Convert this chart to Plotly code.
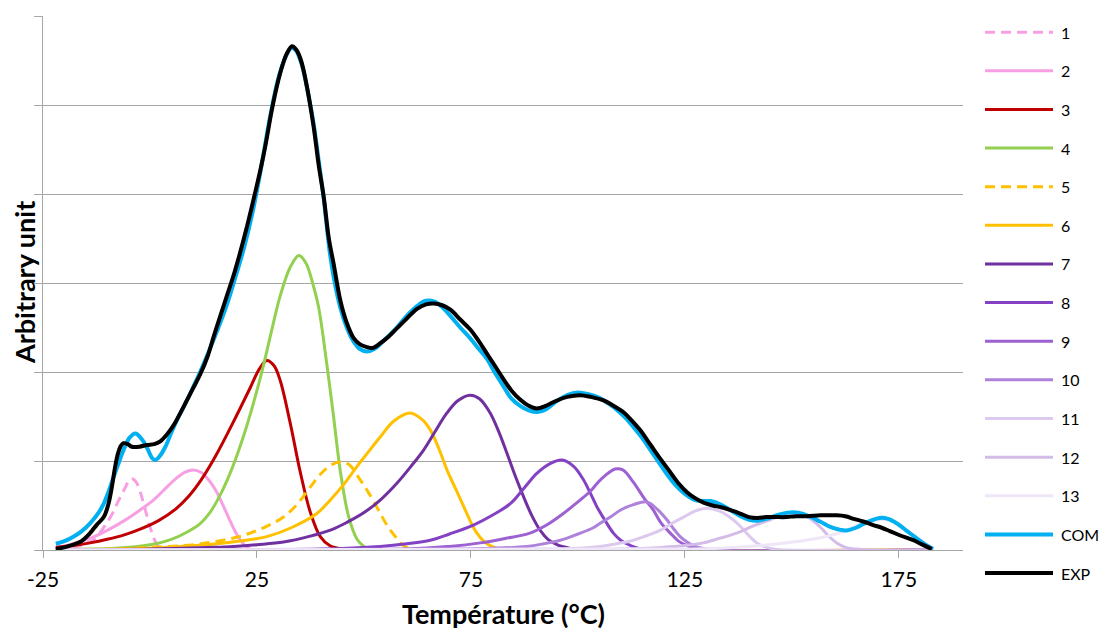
import plotly.graph_objects as go

# ---- Data: deconvolved thermogram components, composite (COM) and measured (EXP) ----
x1 = [-22, -18, -15, -13, -11, -9, -7.5, -6, -5, -4.2, -3.2, -2.2, -1.2, 0, 1.2, 2.2, 3.5, 183]
y1 = [0.0, 0.03, 0.07, 0.12, 0.24, 0.39, 0.54, 0.68, 0.77, 0.80, 0.76, 0.64, 0.47, 0.26, 0.10, 0.03, 0.0, 0.0]

x2 = [-22, -18, -14, -10, -6, -2.3, 1, 4, 6, 8, 10, 12, 14, 15.5, 17, 18.5, 20, 21.3, 22.5, 24, 183]
y2 = [0.02, 0.07, 0.13, 0.22, 0.33, 0.45, 0.57, 0.71, 0.80, 0.87, 0.90, 0.87, 0.77, 0.66, 0.51, 0.35, 0.20, 0.10, 0.04, 0.0, 0.0]

x3 = [-22, -18, -14, -10, -6, -2, 2, 6, 9, 12, 15.5, 19.5, 23.4, 25.5, 27.3, 29, 30.4, 32.8, 35.1, 37.5, 39.8, 42, 45, 48, 183]
y3 = [0.03, 0.05, 0.08, 0.12, 0.17, 0.24, 0.33, 0.46, 0.60, 0.79, 1.07, 1.44, 1.82, 2.03, 2.13, 2.07, 1.91, 1.42, 0.88, 0.42, 0.15, 0.05, 0.01, 0.0, 0.0]

x4 = [-22, -15, -8, 0, 5, 8.6, 11.8, 14, 16, 18, 20, 22, 24, 26.4, 28.5, 30.4, 32.8, 34.8, 36.5, 38, 39.4, 41.4, 42.9, 44.5, 46.4, 48.4, 50, 52, 183]
y4 = [0.0, 0.01, 0.02, 0.06, 0.12, 0.20, 0.30, 0.42, 0.58, 0.78, 1.02, 1.30, 1.62, 2.05, 2.48, 2.85, 3.18, 3.31, 3.22, 3.00, 2.73, 2.06, 1.50, 0.88, 0.38, 0.12, 0.04, 0.0, 0.0]

x5 = [-22, -10, 0, 7.9, 12, 16, 20, 23.4, 27, 31.2, 34.5, 37.5, 40, 42.5, 44.5, 46.5, 49.1, 51, 53.5, 55.5, 57.7, 59.2, 61, 63, 183]
y5 = [0.0, 0.01, 0.03, 0.05, 0.07, 0.10, 0.14, 0.19, 0.26, 0.37, 0.52, 0.71, 0.86, 0.96, 0.99, 0.96, 0.79, 0.65, 0.44, 0.27, 0.13, 0.05, 0.01, 0.0, 0.0]

x6 = [-22, 0, 10, 15.7, 21, 27.3, 33, 39, 42.1, 45, 48.4, 51, 53.8, 57, 60.8, 63.5, 65.5, 67.5, 69.4, 71.5, 73.3, 75, 76.4, 78, 79.5, 82, 85, 183]
y6 = [0.0, 0.02, 0.05, 0.07, 0.10, 0.15, 0.25, 0.41, 0.56, 0.72, 0.94, 1.10, 1.27, 1.45, 1.54, 1.47, 1.35, 1.14, 0.90, 0.68, 0.49, 0.31, 0.19, 0.10, 0.05, 0.01, 0.0, 0.0]

x7 = [-22, 0, 15, 19.5, 25, 31.2, 37, 42.5, 46, 50.3, 54, 57.7, 61, 63.9, 66.5, 69.4, 72, 74.8, 77, 79.5, 81.5, 83.4, 85.3, 87.3, 89.3, 91.2, 93, 95.1, 98, 101, 183]
y7 = [0.0, 0.01, 0.03, 0.04, 0.06, 0.09, 0.15, 0.23, 0.31, 0.43, 0.57, 0.75, 0.94, 1.12, 1.32, 1.54, 1.68, 1.74, 1.70, 1.54, 1.33, 1.09, 0.84, 0.60, 0.38, 0.22, 0.12, 0.06, 0.02, 0.0, 0.0]

x8 = [-22, 40, 53.8, 60, 65.5, 70, 75.6, 80, 84.2, 87.5, 90.4, 93.5, 96.3, 99, 101.3, 103, 104.4, 106.5, 108.3, 110, 111.4, 114, 117, 183]
y8 = [0.0, 0.01, 0.04, 0.07, 0.11, 0.18, 0.28, 0.39, 0.52, 0.70, 0.86, 0.97, 1.01, 0.94, 0.79, 0.63, 0.49, 0.32, 0.19, 0.11, 0.07, 0.02, 0.0, 0.0]

x9 = [-22, 60, 70, 77.2, 83, 88.8, 93, 96.6, 100, 102.9, 105.5, 108.7, 110.5, 113, 115.5, 117.6, 119.5, 121.6, 123.5, 125.5, 128, 183]
y9 = [0.0, 0.01, 0.04, 0.08, 0.13, 0.19, 0.29, 0.41, 0.54, 0.66, 0.80, 0.91, 0.90, 0.76, 0.58, 0.45, 0.30, 0.19, 0.10, 0.05, 0.01, 0.0]

x10 = [-22, 70, 80, 88.1, 92, 95.9, 100, 103.6, 105.2, 107.6, 110, 113, 116.1, 118.5, 120.8, 122.5, 123.9, 125.5, 127, 129, 132, 183]
y10 = [0.0, 0.01, 0.02, 0.04, 0.07, 0.11, 0.18, 0.25, 0.30, 0.37, 0.45, 0.51, 0.54, 0.46, 0.34, 0.23, 0.15, 0.09, 0.05, 0.02, 0.0, 0.0]

x11 = [-22, 90, 100, 105.2, 109, 113, 116, 119.2, 122, 124.7, 127.5, 130.1, 133, 136.3, 138.3, 140.2, 141.8, 143.4, 146, 149, 183]
y11 = [0.0, 0.01, 0.02, 0.04, 0.07, 0.11, 0.16, 0.22, 0.30, 0.37, 0.44, 0.47, 0.44, 0.34, 0.25, 0.15, 0.08, 0.04, 0.01, 0.0, 0.0]

x12 = [-22, 110, 120, 125, 129.3, 133, 137.1, 141, 144.9, 148, 151.1, 154, 156.6, 158.5, 160.5, 162.5, 165, 168, 183]
y12 = [0.0, 0.01, 0.03, 0.05, 0.08, 0.13, 0.19, 0.27, 0.34, 0.39, 0.41, 0.36, 0.26, 0.16, 0.08, 0.03, 0.01, 0.0, 0.0]

x13 = [-22, 125, 133, 140, 147, 152, 157, 161, 164, 167, 170, 172, 174.5, 177, 179.5, 181.5, 183]
y13 = [0.0, 0.01, 0.02, 0.04, 0.07, 0.10, 0.14, 0.19, 0.25, 0.31, 0.34, 0.34, 0.30, 0.22, 0.13, 0.06, 0.03]

x_com = [-22, -20, -17.9, -16, -14, -12, -10.8, -9.5, -8.5, -7.3, -6.2, -4.8, -3.4, -2, -0.7, 0.4, 1.2, 2.2, 3.6, 5,
         6.3, 8, 10, 12, 14, 16, 18, 20, 22, 24, 26, 28, 30, 31.5, 33, 34, 35.5, 37, 38.2, 39.5,
         40.6, 42, 43, 44.5, 46, 47.6, 49, 50.7, 52.5, 55, 57.7, 60, 62.4, 64.5, 66.5, 68.5, 70.2, 72.5, 74.8, 77,
         78.7, 80.5, 82.6, 84.5, 86.5, 88.5, 90.5, 92.5, 95, 97.5, 100, 102.5, 105, 107, 109, 111, 113, 115, 117, 119,
         121, 123, 125, 127, 129, 131, 133, 135.6, 138, 140, 142, 144, 146.5, 149, 151.5, 154, 156.6, 159, 161, 162.8,
         165, 167.5, 170.5, 172.5, 174.5, 177, 179.5, 181.5, 183]
y_com = [0.07, 0.10, 0.15, 0.21, 0.30, 0.42, 0.52, 0.68, 0.82, 0.98, 1.12, 1.26, 1.31, 1.25, 1.15, 1.04, 1.01, 1.05, 1.16, 1.32,
         1.46, 1.62, 1.82, 2.03, 2.26, 2.50, 2.76, 3.07, 3.40, 3.80, 4.30, 4.85, 5.30, 5.52, 5.64, 5.62, 5.45, 5.12, 4.80, 4.35,
         3.95, 3.35, 3.05, 2.72, 2.50, 2.34, 2.26, 2.23, 2.26, 2.37, 2.50, 2.63, 2.74, 2.80, 2.79, 2.72, 2.63, 2.50, 2.38, 2.25,
         2.15, 2.00, 1.84, 1.70, 1.62, 1.57, 1.55, 1.58, 1.67, 1.74, 1.77, 1.75, 1.71, 1.65, 1.58, 1.49, 1.38, 1.26, 1.12, 0.98,
         0.84, 0.72, 0.63, 0.57, 0.55, 0.55, 0.52, 0.45, 0.38, 0.34, 0.33, 0.35, 0.39, 0.42, 0.42, 0.38, 0.32, 0.26, 0.23, 0.22,
         0.25, 0.31, 0.36, 0.35, 0.30, 0.21, 0.12, 0.05, 0.01]

x_exp = [-22, -20, -17.9, -16, -14, -12.5, -10.8, -9.8, -8.9, -8.2, -7.5, -6.8, -6.2, -5.2, -4.2, -2.5, -0.7, 1, 2.4, 4,
         5.5, 7, 8.5, 10, 11.8, 13.5, 14.9, 16.5, 18, 19.5, 21, 22.7, 24.5, 25.8, 27, 28.5, 29.7, 31, 32, 33.2,
         34.2, 35.3, 36.5, 38.2, 39.5, 40.6, 41.8, 42.9, 44.5, 46, 47.6, 49.1, 50.7, 52, 54, 55.8, 57.7, 60, 62.4, 64.5,
         66.3, 68.3, 70.2, 72.5, 74.8, 76.8, 78.7, 80.6, 82.6, 84.5, 86.5, 88.5, 90.4, 92.5, 95.1, 97.5, 100.5, 103, 106, 108,
         110.6, 112.5, 114.5, 117, 119.2, 121.5, 123.5, 125.5, 127.5, 129.5, 131.5, 133.5, 135.5, 137.9, 140, 142, 144, 146, 148.8, 151,
         153.5, 156.6, 158.5, 160.5, 162.5, 164.5, 166.7, 169, 171, 173, 175.5, 178.4, 180.5, 182.7]
y_exp = [0.01, 0.03, 0.06, 0.10, 0.19, 0.28, 0.37, 0.50, 0.71, 0.92, 1.08, 1.17, 1.20, 1.19, 1.16, 1.16, 1.18, 1.19, 1.22, 1.30,
         1.40, 1.53, 1.67, 1.81, 1.98, 2.18, 2.40, 2.64, 2.86, 3.08, 3.33, 3.64, 4.00, 4.27, 4.55, 4.95, 5.22, 5.45, 5.58, 5.66,
         5.62, 5.50, 5.25, 4.77, 4.30, 3.97, 3.50, 3.22, 2.80, 2.55, 2.38, 2.31, 2.28, 2.27, 2.33, 2.40, 2.49, 2.60, 2.71, 2.76,
         2.77, 2.75, 2.70, 2.59, 2.48, 2.35, 2.21, 2.07, 1.92, 1.79, 1.69, 1.62, 1.59, 1.62, 1.68, 1.72, 1.74, 1.72, 1.68, 1.63,
         1.55, 1.46, 1.35, 1.18, 1.03, 0.88, 0.75, 0.65, 0.58, 0.53, 0.50, 0.48, 0.45, 0.41, 0.37, 0.36, 0.37, 0.37, 0.37, 0.38,
         0.38, 0.39, 0.39, 0.39, 0.38, 0.35, 0.32, 0.28, 0.25, 0.21, 0.16, 0.11, 0.06, 0.01]

series_names = ["1", "2", "3", "4", "5", "6", "7", "8", "9", "10", "11", "12", "13", "COM", "EXP"]
x_ticks = [-25, 25, 75, 125, 175]

# ---- Styling ----
FONT = "Lato"
colors = ["#F79FE3", "#F79FE3", "#C00000", "#92D050", "#FFC000", "#FFC000", "#7030A0",
          "#8441C4", "#9D61D2", "#AE82DB", "#DCC9EE", "#D4BCE8", "#EFE6F7", "#00B0F0", "#000000"]
dashes = ["10px,6px", "solid", "solid", "solid", "10px,6px", "solid", "solid", "solid",
          "solid", "solid", "solid", "solid", "solid", "solid", "solid"]
widths = [3, 3, 3, 3, 3, 3, 3, 3, 3, 3, 3, 3, 3, 4, 4]

xs = [x1, x2, x3, x4, x5, x6, x7, x8, x9, x10, x11, x12, x13, x_com, x_exp]
ys = [y1, y2, y3, y4, y5, y6, y7, y8, y9, y10, y11, y12, y13, y_com, y_exp]

fig = go.Figure()
for name, xv, yv, c, d, w in zip(series_names, xs, ys, colors, dashes, widths):
    fig.add_trace(go.Scatter(
        x=xv, y=yv, name=name, mode="lines",
        line=dict(color=c, width=w, dash=d, shape="spline", smoothing=1.0, simplify=False),
        showlegend=False,
    ))

# ---- Page geometry (pixels) ----
W, H = 1101, 633
ML, MR, MT, MB = 43, 138, 16, 83
pw, ph = W - ML - MR, H - MT - MB


def px_to_paper(px, py):
    return (px - ML) / pw, (H - MB - py) / ph


# ---- Right-hand key drawn with shapes + text ----
key_top, key_step = 32.2, 38.63
for i, name in enumerate(series_names):
    py = key_top + i * key_step
    xa, ya = px_to_paper(985, py)
    xb, _ = px_to_paper(1053, py)
    xt, _ = px_to_paper(1059, py)
    fig.add_shape(type="line", xref="paper", yref="paper", x0=xa, x1=xb, y0=ya, y1=ya,
                  line=dict(color=colors[i], width=widths[i], dash=dashes[i]))
    fig.add_annotation(xref="paper", yref="paper", x=xt, y=ya, text=name, showarrow=False,
                       xanchor="left", yanchor="middle", font=dict(family=FONT, size=16, color="#000000"))

# ---- Axis titles ----
tx, ty = px_to_paper(503, 613)
fig.add_annotation(xref="paper", yref="paper", x=tx, y=ty, text="<b>Température (°C)</b>", showarrow=False,
                   xanchor="center", yanchor="middle", font=dict(family=FONT, size=27, color="#000000"))
ax_, ay_ = px_to_paper(24, 283)
fig.add_annotation(xref="paper", yref="paper", x=ax_, y=ay_, text="<b>Arbitrary unit</b>", showarrow=False,
                   textangle=-90, xanchor="center", yanchor="middle",
                   font=dict(family=FONT, size=27, color="#000000"))

axis_gray = "#A6A6A6"
fig.update_layout(
    width=W, height=H,
    margin=dict(l=ML, r=MR, t=MT, b=MB, autoexpand=False),
    paper_bgcolor="white", plot_bgcolor="white",
    font=dict(family=FONT, color="#000000"),
    xaxis=dict(
        range=[-25, 190], tickvals=x_ticks, ticktext=[str(t) for t in x_ticks],
        ticks="outside", ticklen=7, tickwidth=1.3, tickcolor=axis_gray,
        showline=True, linecolor=axis_gray, linewidth=1.3,
        showgrid=False, zeroline=False, ticklabelstandoff=4,
        tickfont=dict(family=FONT, size=21, color="#000000"),
    ),
    yaxis=dict(
        range=[0, 6], dtick=1, tick0=0,
        showticklabels=False, ticks="outside", ticklen=8, tickwidth=1.3, tickcolor=axis_gray,
        showline=True, linecolor=axis_gray, linewidth=1.3,
        showgrid=True, gridcolor=axis_gray, gridwidth=1.3, zeroline=False,
    ),
)

fig.write_html("out.html")
